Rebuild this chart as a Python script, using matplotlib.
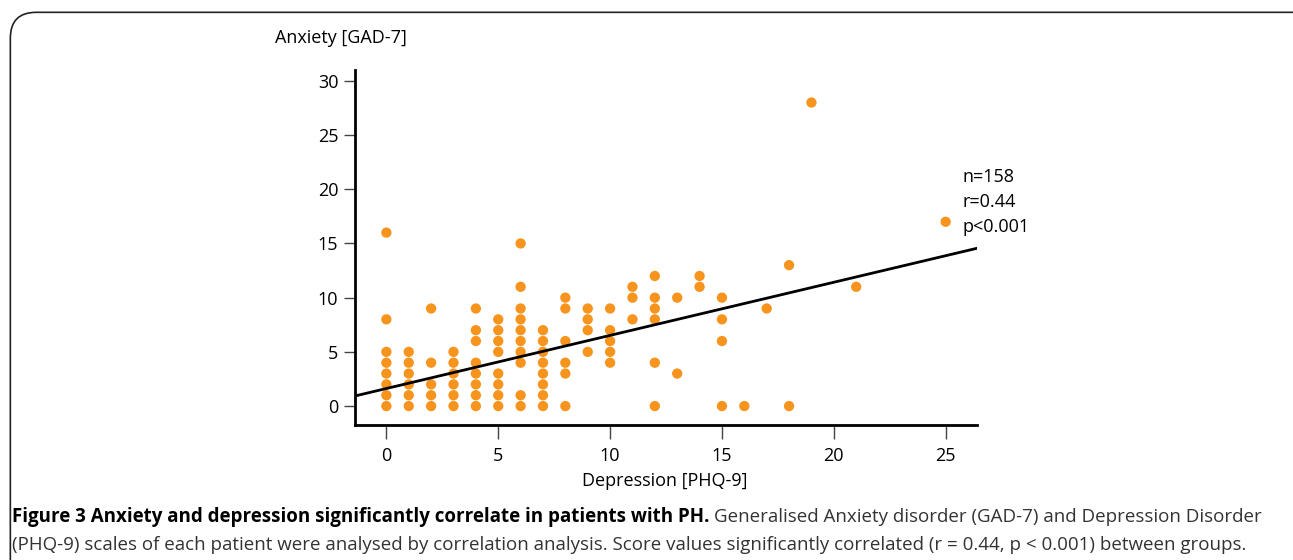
import matplotlib
matplotlib.use("Agg")
import matplotlib.pyplot as plt
from matplotlib.patches import FancyBboxPatch

# PHQ-9 score -> GAD-7 scores seen in that column
phq = [0, 1, 2, 3, 4, 5, 6, 7, 8, 9, 10, 11, 12, 13, 14, 15, 16, 17, 18, 19, 21, 25]
gad = [
    [0, 1, 2, 3, 4, 5, 8, 16],
    [0, 1, 2, 3, 4, 5],
    [0, 1, 2, 4, 9],
    [0, 1, 2, 3, 4, 5],
    [0, 1, 2, 3, 4, 6, 7, 9],
    [0, 1, 2, 3, 5, 6, 7, 8],
    [0, 1, 4, 5, 6, 7, 8, 9, 11, 15],
    [0, 1, 2, 3, 4, 5, 6, 7],
    [0, 3, 4, 6, 9, 10],
    [5, 7, 8, 9],
    [4, 5, 6, 7, 9],
    [8, 10, 11],
    [0, 4, 8, 9, 10, 12],
    [3, 10],
    [11, 12],
    [0, 6, 8, 10],
    [0],
    [9],
    [0, 13],
    [28],
    [11],
    [17],
]
fit_intercept = 1.62
fit_slope = 0.49
stats_text = "n=158\nr=0.44\np<0.001"

xs, ys = [], []
for x, col in zip(phq, gad):
    for y in col:
        xs.append(x)
        ys.append(y)

plt.rcParams['font.family'] = ['Open Sans', 'DejaVu Sans']

fig = plt.figure(figsize=(12.93, 5.6), dpi=100)

# rounded frame around the figure panel
frame = FancyBboxPatch((0.008, -0.05), 1.1, 1.028, boxstyle="round,pad=0,rounding_size=0.02",
                       transform=fig.transFigure, fill=False, lw=1.2, ec='#222222',
                       mutation_aspect=1293 / 560)
fig.patches.append(frame)

ax = fig.add_axes([0.2746, 0.241, 0.481, 0.634])
ax.scatter(xs, ys, s=55, color='#F7941D', edgecolors='none', zorder=3)

xlim = (-1.4, 26.4)
ax.plot(xlim, [fit_intercept + fit_slope * v for v in xlim], color='black', lw=2, zorder=4)
ax.set_xlim(xlim)
ax.set_ylim(-1.75, 31)

ax.spines['top'].set_visible(False)
ax.spines['right'].set_visible(False)
ax.spines['left'].set_linewidth(2)
ax.spines['bottom'].set_linewidth(2)
ax.set_xticks([0, 5, 10, 15, 20, 25])
ax.set_yticks([0, 5, 10, 15, 20, 25, 30])
ax.tick_params(axis='both', labelsize=13, width=1, color='#444444')
ax.tick_params(axis='y', length=8, pad=4)
ax.tick_params(axis='x', length=10, pad=6)

ax.text(25.75, 22.0, stats_text, fontsize=13, va='top', ha='left', linespacing=1.52)

fig.text(275 / 1293, 1 - 38 / 560, "Anxiety [GAD-7]", fontsize=13, va='center', ha='left')
fig.text(665 / 1293, 1 - 481 / 560, "Depression [PHQ-9]", fontsize=13, va='center', ha='center')

# caption: bold lead-in followed by regular text
bold = fig.text(12 / 1293, 1 - 517 / 560,
                "Figure 3 Anxiety and depression significantly correlate in patients with PH.",
                fontsize=13.5, fontweight='bold', va='center', ha='left')
fig.canvas.draw()
bb = bold.get_window_extent()
fig.text((bb.x1 + 5) / 1293, 1 - 517 / 560,
         "Generalised Anxiety disorder (GAD-7) and Depression Disorder",
         fontsize=13.5, color='#333333', va='center', ha='left')
fig.text(12 / 1293, 1 - 545 / 560,
         "(PHQ-9) scales of each patient were analysed by correlation analysis. "
         "Score values significantly correlated (r = 0.44, p < 0.001) between groups.",
         fontsize=13.5, color='#333333', va='center', ha='left')

fig.savefig("out.png", dpi=100)
